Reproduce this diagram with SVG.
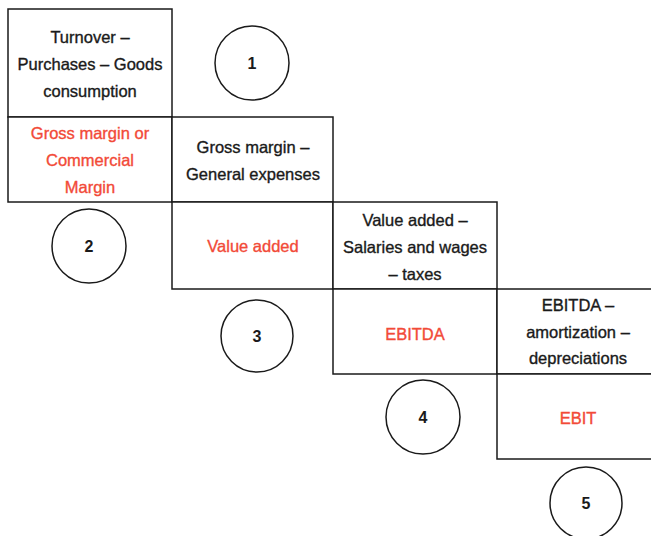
<svg xmlns="http://www.w3.org/2000/svg" width="651" height="536" viewBox="0 0 651 536">
  <style>
    .cell { fill: #ffffff; stroke: #1a1a1a; stroke-width: 1.5; }
    .step { fill: #ffffff; stroke: #1a1a1a; stroke-width: 1.5; }
    .t { font-family: "Liberation Sans", Arial, sans-serif; font-size: 16.5px; fill: #1a1a1a; stroke: #1a1a1a; stroke-width: 0.35; text-anchor: middle; }
    .r { fill: #f24a38; stroke: #f24a38; }
    .n { font-family: "Liberation Sans", Arial, sans-serif; font-size: 16px; font-weight: bold; fill: #1a1a1a; text-anchor: middle; }
  </style>
  <rect width="651" height="536" fill="#ffffff"/>

  <!-- Stage 1 -->
  <g id="formula-1">
    <rect class="cell" x="8" y="9" width="164" height="108"/>
    <text class="t" x="90" y="43">Turnover –</text>
    <text class="t" x="90" y="70">Purchases – Goods</text>
    <text class="t" x="90" y="97">consumption</text>
  </g>
  <g id="result-1">
    <rect class="cell" x="8" y="117" width="164" height="85"/>
    <text class="t r" x="90" y="139">Gross margin or</text>
    <text class="t r" x="90" y="166">Commercial</text>
    <text class="t r" x="90" y="193">Margin</text>
  </g>

  <!-- Stage 2 -->
  <g id="formula-2">
    <rect class="cell" x="172" y="117" width="161" height="85"/>
    <text class="t" x="253" y="153">Gross margin –</text>
    <text class="t" x="253" y="180">General expenses</text>
  </g>
  <g id="result-2">
    <rect class="cell" x="172" y="202" width="161" height="87"/>
    <text class="t r" x="253" y="252">Value added</text>
  </g>

  <!-- Stage 3 -->
  <g id="formula-3">
    <rect class="cell" x="333" y="202" width="164" height="87"/>
    <text class="t" x="415" y="226">Value added –</text>
    <text class="t" x="415" y="253">Salaries and wages</text>
    <text class="t" x="415" y="280">– taxes</text>
  </g>
  <g id="result-3">
    <rect class="cell" x="333" y="289" width="164" height="85"/>
    <text class="t r" x="415" y="340">EBITDA</text>
  </g>

  <!-- Stage 4 (runs off the right edge) -->
  <g id="formula-4">
    <rect class="cell" x="497" y="289" width="165" height="85"/>
    <text class="t" x="578" y="311">EBITDA –</text>
    <text class="t" x="578" y="338">amortization –</text>
    <text class="t" x="578" y="364">depreciations</text>
  </g>
  <g id="result-4">
    <rect class="cell" x="497" y="374" width="165" height="85"/>
    <text class="t r" x="578" y="424">EBIT</text>
  </g>

  <!-- Step markers -->
  <g id="step-1">
    <circle class="step" cx="252" cy="63" r="37"/>
    <text class="n" x="252" y="69">1</text>
  </g>
  <g id="step-2">
    <circle class="step" cx="89" cy="246" r="37"/>
    <text class="n" x="89" y="252">2</text>
  </g>
  <g id="step-3">
    <circle class="step" cx="257" cy="336" r="36"/>
    <text class="n" x="257" y="342">3</text>
  </g>
  <g id="step-4">
    <circle class="step" cx="423" cy="417" r="37"/>
    <text class="n" x="423" y="423">4</text>
  </g>
  <g id="step-5">
    <circle class="step" cx="586" cy="503" r="36"/>
    <text class="n" x="586" y="509">5</text>
  </g>
</svg>
